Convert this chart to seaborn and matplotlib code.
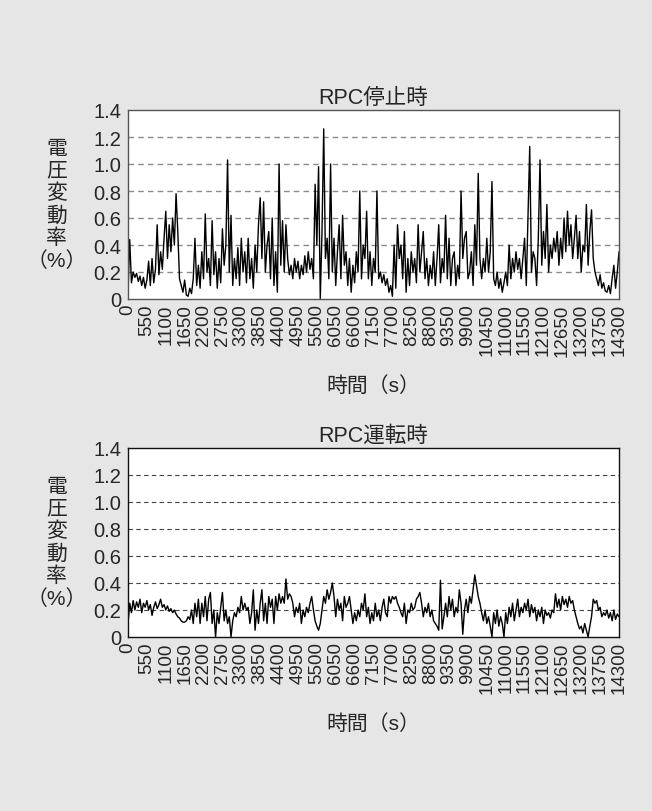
import numpy as np
import pandas as pd
import matplotlib
matplotlib.use("Agg")
import matplotlib.pyplot as plt
import seaborn as sns

# ---- data -------------------------------------------------------------
time_s = np.arange(0, 14301, 50)

rpc_stop = [
    0.05, 0.44, 0.12, 0.20, 0.16, 0.19, 0.13, 0.17, 0.10, 0.16,
    0.08, 0.14, 0.28, 0.10, 0.30, 0.12, 0.22, 0.55, 0.18, 0.35,
    0.22, 0.45, 0.65, 0.30, 0.55, 0.35, 0.60, 0.40, 0.78, 0.50,
    0.15, 0.10, 0.05, 0.14, 0.03, 0.02, 0.08, 0.04, 0.15, 0.45,
    0.10, 0.25, 0.08, 0.35, 0.15, 0.63, 0.20, 0.30, 0.10, 0.58,
    0.18, 0.35, 0.08, 0.30, 0.12, 0.52, 0.25, 0.40, 1.03, 0.20,
    0.62, 0.10, 0.30, 0.15, 0.38, 0.10, 0.45, 0.20, 0.35, 0.12,
    0.45, 0.15, 0.30, 0.08, 0.40, 0.20, 0.55, 0.75, 0.30, 0.72,
    0.20, 0.40, 0.50, 0.15, 0.60, 0.10, 0.35, 0.05, 1.00, 0.25,
    0.58, 0.20, 0.55, 0.30, 0.18, 0.25, 0.15, 0.30, 0.20, 0.28,
    0.15, 0.25, 0.18, 0.32, 0.20, 0.35, 0.22, 0.30, 0.15, 0.85,
    0.40, 0.98, 0.00, 0.50, 1.26, 0.30, 0.45, 0.15, 1.00, 0.20,
    0.45, 0.10, 0.35, 0.55, 0.15, 0.62, 0.25, 0.35, 0.10, 0.30,
    0.05, 0.25, 0.12, 0.35, 0.20, 0.80, 0.15, 0.40, 0.30, 0.65,
    0.15, 0.35, 0.10, 0.30, 0.20, 0.80, 0.15, 0.20, 0.12, 0.18,
    0.10, 0.15, 0.05, 0.10, 0.02, 0.40, 0.08, 0.55, 0.30, 0.40,
    0.15, 0.50, 0.05, 0.30, 0.10, 0.35, 0.20, 0.30, 0.12, 0.55,
    0.20, 0.35, 0.50, 0.15, 0.30, 0.10, 0.25, 0.15, 0.35, 0.10,
    0.30, 0.55, 0.12, 0.30, 0.20, 0.62, 0.15, 0.45, 0.10, 0.30,
    0.35, 0.10, 0.25, 0.15, 0.80, 0.30, 0.45, 0.50, 0.15, 0.20,
    0.35, 0.10, 0.55, 0.25, 0.93, 0.30, 0.15, 0.30, 0.20, 0.45,
    0.20, 0.35, 0.87, 0.15, 0.10, 0.20, 0.08, 0.15, 0.05, 0.12,
    0.20, 0.10, 0.40, 0.15, 0.30, 0.20, 0.35, 0.22, 0.30, 0.15,
    0.30, 0.45, 0.10, 0.60, 1.13, 0.20, 0.35, 0.30, 0.10, 0.45,
    1.03, 0.25, 0.50, 0.30, 0.70, 0.20, 0.40, 0.30, 0.45, 0.35,
    0.50, 0.25, 0.45, 0.30, 0.60, 0.35, 0.65, 0.40, 0.55, 0.30,
    0.45, 0.62, 0.30, 0.50, 0.20, 0.40, 0.35, 0.70, 0.25, 0.50,
    0.66, 0.30, 0.20, 0.15, 0.10, 0.18, 0.08, 0.12, 0.06, 0.05,
    0.10, 0.04, 0.15, 0.25, 0.08, 0.20, 0.35,
]

rpc_run = [
    0.10, 0.25, 0.18, 0.27, 0.20, 0.26, 0.22, 0.28, 0.18, 0.25,
    0.22, 0.27, 0.20, 0.24, 0.16, 0.22, 0.26, 0.21, 0.24, 0.28,
    0.22, 0.24, 0.20, 0.23, 0.19, 0.21, 0.18, 0.20, 0.17, 0.15,
    0.14, 0.12, 0.11, 0.11, 0.12, 0.15, 0.13, 0.20, 0.10, 0.25,
    0.15, 0.28, 0.10, 0.25, 0.15, 0.30, 0.12, 0.28, 0.33, 0.10,
    0.20, 0.00, 0.18, 0.10, 0.22, 0.33, 0.12, 0.20, 0.10, 0.15,
    0.00, 0.12, 0.18, 0.15, 0.22, 0.18, 0.30, 0.20, 0.25, 0.20,
    0.22, 0.10, 0.18, 0.35, 0.05, 0.20, 0.10, 0.25, 0.35, 0.12,
    0.25, 0.10, 0.30, 0.22, 0.28, 0.10, 0.30, 0.20, 0.32, 0.25,
    0.30, 0.25, 0.43, 0.28, 0.32, 0.30, 0.25, 0.15, 0.22, 0.18,
    0.25, 0.10, 0.20, 0.15, 0.22, 0.18, 0.25, 0.30, 0.20, 0.12,
    0.08, 0.05, 0.10, 0.20, 0.30, 0.25, 0.35, 0.28, 0.33, 0.40,
    0.30, 0.15, 0.28, 0.20, 0.25, 0.12, 0.30, 0.22, 0.25, 0.30,
    0.20, 0.10, 0.18, 0.12, 0.20, 0.15, 0.25, 0.20, 0.32, 0.15,
    0.22, 0.10, 0.18, 0.12, 0.25, 0.15, 0.20, 0.12, 0.22, 0.28,
    0.18, 0.15, 0.30, 0.25, 0.30, 0.28, 0.30, 0.25, 0.22, 0.18,
    0.15, 0.25, 0.10, 0.20, 0.18, 0.25, 0.20, 0.22, 0.28, 0.30,
    0.33, 0.25, 0.15, 0.22, 0.18, 0.25, 0.15, 0.20, 0.12, 0.10,
    0.08, 0.05, 0.42, 0.06, 0.15, 0.25, 0.15, 0.30, 0.20, 0.28,
    0.15, 0.22, 0.18, 0.35, 0.25, 0.02, 0.20, 0.28, 0.18, 0.30,
    0.25, 0.35, 0.46, 0.38, 0.30, 0.25, 0.18, 0.12, 0.20, 0.10,
    0.15, 0.08, 0.00, 0.18, 0.10, 0.20, 0.08, 0.15, 0.10, 0.00,
    0.18, 0.10, 0.22, 0.15, 0.25, 0.12, 0.20, 0.28, 0.15, 0.22,
    0.18, 0.25, 0.20, 0.28, 0.15, 0.24, 0.18, 0.22, 0.12, 0.20,
    0.15, 0.22, 0.10, 0.20, 0.16, 0.18, 0.14, 0.20, 0.18, 0.32,
    0.22, 0.28, 0.20, 0.30, 0.24, 0.28, 0.22, 0.30, 0.25, 0.27,
    0.20, 0.15, 0.10, 0.06, 0.08, 0.03, 0.10, 0.05, 0.00, 0.08,
    0.15, 0.28, 0.25, 0.27, 0.20, 0.22, 0.15, 0.18, 0.16, 0.20,
    0.14, 0.18, 0.12, 0.20, 0.13, 0.17, 0.15,
]

titles = ["RPC停止時", "RPC運転時"]
x_ticks = list(range(0, 14301, 550))
y_ticks = [0, 0.2, 0.4, 0.6, 0.8, 1.0, 1.2, 1.4]
y_tick_labels = ["0", "0.2", "0.4", "0.6", "0.8", "1.0", "1.2", "1.4"]
y_label = "電\n圧\n変\n動\n率\n（%）"
x_label = "時間（s）"

# ---- style ------------------------------------------------------------
sns.set_theme(style="white")
plt.rcParams["font.family"] = ["Liberation Sans", "Noto Sans CJK JP", "DejaVu Sans"]

BG = "#e6e6e6"
fig = plt.figure(figsize=(6.52, 8.12), dpi=100, facecolor=BG)

W, H = 652, 812
panels = [
    dict(top=111, bottom=300, values=rpc_stop, grid="#8a8a8a", spine="#555555", glw=1.0),
    dict(top=449, bottom=638, values=rpc_run, grid="#444444", spine="#111111", glw=0.8),
]
left_px, right_px = 128, 619

for p, title in zip(panels, titles):
    ax = fig.add_axes([left_px / W, 1 - p["bottom"] / H,
                       (right_px - left_px) / W, (p["bottom"] - p["top"]) / H])
    ax.set_facecolor("white")
    df = pd.DataFrame({"t": time_s, "v": p["values"]})
    sns.lineplot(data=df, x="t", y="v", ax=ax, color="black", lw=1.0)
    ax.set_xlim(0, 14300)
    ax.set_ylim(0, 1.4)
    ax.set_xticks(x_ticks)
    ax.set_xticklabels([str(v) for v in x_ticks], rotation=90, fontsize=13.5)
    ax.set_yticks(y_ticks)
    ax.set_yticklabels(y_tick_labels, fontsize=14.5)
    ax.tick_params(axis="both", length=0, pad=3)
    ax.tick_params(axis="y", pad=5)
    for yv in y_ticks[1:-1]:
        ax.axhline(yv, color=p["grid"], lw=p["glw"], ls=(0, (4, 3)), zorder=0.5)
    for s in ax.spines.values():
        s.set_color(p["spine"])
        s.set_linewidth(1.0)
    ax.set_xlabel("")
    ax.set_ylabel("")
    ax.set_title(title, fontsize=15.5, pad=5)
    ax.text(-0.145, 0.5, y_label, transform=ax.transAxes, ha="center", va="center",
            fontsize=15, linespacing=1.2)
    ax.text(0.5, -0.455, x_label, transform=ax.transAxes, ha="center", va="center",
            fontsize=15)

fig.savefig("out.png", dpi=100, facecolor=BG)
